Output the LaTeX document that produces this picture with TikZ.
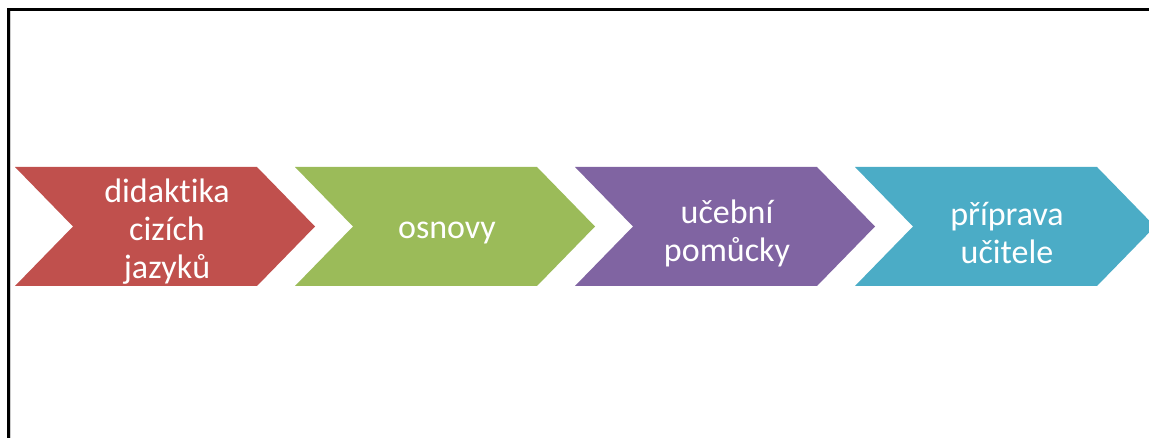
\documentclass[tikz,border=0pt]{standalone}
\usepackage{fontspec}
\setmainfont[Ligatures=NoCommon]{Carlito}
\definecolor{cred}{HTML}{C0504D}
\definecolor{cgreen}{HTML}{9BBB59}
\definecolor{cpurple}{HTML}{8064A2}
\definecolor{cteal}{HTML}{4BACC6}
\tikzset{
  lbl/.style={text=white, align=center, font=\fontsize{34}{38}\selectfont, inner sep=0pt},
}
\begin{document}
\begin{tikzpicture}[x=1pt,y=-1pt]
\useasboundingbox (0,0) rectangle (1149,438);
\clip (0,0) rectangle (1149,438);
\fill[white] (0,0) rectangle (1149,438);
% frame
\draw[line width=3pt] (8.5,440) -- (8.5,10) -- (1152,10);
\draw[gray!40, line width=0.8pt] (10.8,440) -- (10.8,11.5);
% chevrons
\foreach \x/\c in {0/cred,280/cgreen,560/cpurple,840/cteal}{
  \fill[\c] (15+\x,167) -- (257+\x,167) -- (315+\x,226.5) -- (257+\x,286) -- (15+\x,286) -- (73+\x,226.5) -- cycle;
}
\node[lbl] (a) at (167,232) {didaktika\\cizích\\jazyků};
\node[lbl] (b) at (447,233) {osnovy};
\node[lbl] (c) at (727,233) {učební\\pomůcky};
\node[lbl] (d) at (1007,233) {příprava\\učitele};
\end{tikzpicture}
\end{document}
